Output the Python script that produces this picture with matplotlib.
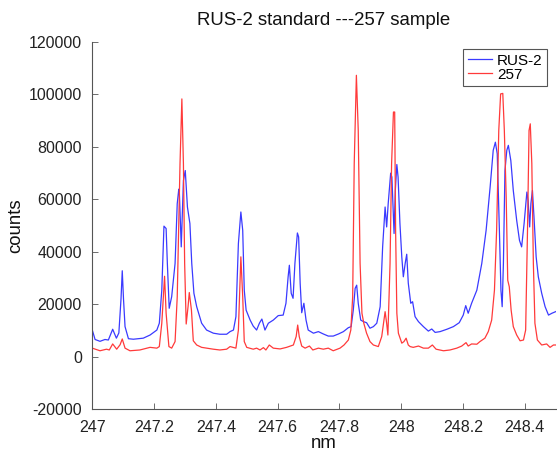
import numpy as np
import matplotlib.pyplot as plt

plt.rcParams['font.family'] = ['Liberation Sans', 'DejaVu Sans']
plt.rcParams['axes.unicode_minus'] = False

# RUS-2 standard spectrum
rus_nm = [
    247.000, 247.009, 247.025, 247.041, 247.052, 247.066, 247.078, 247.086,
    247.093, 247.097, 247.101, 247.106, 247.117, 247.133, 247.165, 247.187,
    247.209, 247.217, 247.225, 247.232, 247.239, 247.243, 247.249, 247.257,
    247.268, 247.275, 247.280, 247.282, 247.288, 247.295, 247.301, 247.308,
    247.316, 247.322, 247.329, 247.338, 247.354, 247.370, 247.392, 247.413,
    247.435, 247.446, 247.457, 247.465, 247.473, 247.481, 247.487, 247.492,
    247.498, 247.511, 247.521, 247.532, 247.541, 247.549, 247.559, 247.570,
    247.586, 247.602, 247.618, 247.627, 247.634, 247.638, 247.644, 247.650,
    247.656, 247.664, 247.668, 247.673, 247.678, 247.685, 247.692, 247.699,
    247.716, 247.732, 247.748, 247.764, 247.780, 247.797, 247.813, 247.829,
    247.838, 247.845, 247.851, 247.856, 247.861, 247.869, 247.878, 247.888,
    247.899, 247.910, 247.921, 247.932, 247.940, 247.948, 247.953, 247.958,
    247.966, 247.970, 247.977, 247.981, 247.986, 247.990, 247.996, 248.002,
    248.007, 248.013, 248.018, 248.023, 248.031, 248.037, 248.045, 248.056,
    248.072, 248.088, 248.099, 248.110, 248.126, 248.148, 248.169, 248.188,
    248.201, 248.209, 248.217, 248.228, 248.245, 248.261, 248.275, 248.288,
    248.298, 248.305, 248.311, 248.318, 248.323, 248.327, 248.331, 248.336,
    248.342, 248.347, 248.355, 248.363, 248.374, 248.383, 248.390, 248.398,
    248.407, 248.411, 248.416, 248.420, 248.425, 248.430, 248.437, 248.444,
    248.455, 248.466, 248.477, 248.488, 248.500,
]
rus_counts = [
    10100, 6500, 5800, 6500, 6300, 10400, 7000, 9000,
    22000, 32700, 22000, 11400, 6800, 6600, 7000, 8200,
    10100, 12700, 25300, 49700, 48800, 35500, 18400, 22800,
    35500, 58300, 63800, 62100, 41800, 67100, 70900, 57000,
    50700, 35500, 24100, 19000, 12700, 10100, 8900, 8500,
    8500, 9500, 10100, 15200, 43100, 55100, 48100, 25300,
    17700, 13900, 11600, 10100, 12700, 14300, 10100, 12700,
    13900, 15600, 15800, 20300, 30400, 34800, 24100, 22200,
    35500, 47100, 45600, 27900, 16700, 20300, 13900, 10100,
    8900, 9500, 8600, 7800, 7800, 8600, 9500, 11000,
    11400, 17700, 26000, 27200, 20300, 13900, 13300, 12900,
    10800, 11400, 12700, 19000, 41800, 57000, 49400, 58300,
    69900, 68400, 46900, 63300, 73200, 68400, 50700, 38000,
    30400, 35500, 39000, 28000, 20300, 20900, 15200, 13300,
    11400, 9700, 10500, 9200, 9500, 10400, 11400, 12900,
    15800, 19400, 16500, 20300, 25300, 35500, 48100, 64600,
    78600, 81700, 77300, 48100, 25300, 19000, 35500, 70900,
    78600, 80500, 74700, 63300, 51900, 44300, 41800, 50700,
    62700, 59500, 49400, 58300, 63300, 53200, 38000, 30400,
    24100, 19000, 15800, 16500, 17100,
]

# 257 sample spectrum
s257_nm = [
    247.000, 247.025, 247.046, 247.055, 247.066, 247.079, 247.090, 247.097,
    247.106, 247.122, 247.154, 247.187, 247.209, 247.217, 247.225, 247.234,
    247.239, 247.248, 247.257, 247.268, 247.275, 247.284, 247.290, 247.295,
    247.299, 247.304, 247.310, 247.314, 247.321, 247.327, 247.338, 247.354,
    247.370, 247.392, 247.413, 247.435, 247.446, 247.465, 247.473, 247.481,
    247.487, 247.492, 247.500, 247.521, 247.532, 247.543, 247.554, 247.562,
    247.573, 247.586, 247.608, 247.629, 247.651, 247.660, 247.665, 247.670,
    247.678, 247.689, 247.703, 247.714, 247.732, 247.748, 247.764, 247.780,
    247.802, 247.815, 247.829, 247.837, 247.843, 247.848, 247.855, 247.861,
    247.867, 247.873, 247.879, 247.888, 247.899, 247.910, 247.926, 247.937,
    247.948, 247.953, 247.957, 247.964, 247.969, 247.975, 247.979, 247.982,
    247.986, 247.991, 248.002, 248.009, 248.016, 248.023, 248.029, 248.039,
    248.056, 248.072, 248.088, 248.101, 248.113, 248.137, 248.158, 248.180,
    248.196, 248.210, 248.217, 248.228, 248.245, 248.255, 248.271, 248.282,
    248.293, 248.302, 248.309, 248.316, 248.322, 248.329, 248.334, 248.340,
    248.345, 248.350, 248.356, 248.363, 248.374, 248.385, 248.396, 248.403,
    248.409, 248.414, 248.418, 248.423, 248.428, 248.433, 248.441, 248.455,
    248.471, 248.482, 248.493, 248.500,
]
s257_counts = [
    3200, 2200, 2800, 2500, 4800, 2800, 4500, 6700,
    3200, 2200, 2500, 3500, 3200, 3800, 12700, 30600,
    16500, 3800, 3200, 5700, 22800, 73500, 98200, 73500,
    35500, 12400, 19000, 24400, 17700, 6000, 4400, 3500,
    3200, 2800, 2500, 2800, 3800, 3200, 10100, 38000,
    22800, 5700, 3500, 2800, 3200, 2500, 3400, 2500,
    4400, 3200, 2900, 3500, 4400, 7600, 12000, 7600,
    4000, 3200, 4000, 2500, 3200, 2800, 3200, 2200,
    3200, 4400, 6300, 10100, 22800, 73500, 107200, 86200,
    35500, 16500, 12700, 8900, 5700, 4400, 3800, 7600,
    17100, 12700, 8200, 35500, 73500, 93200, 93200, 48100,
    16500, 8900, 5100, 5700, 7000, 4400, 3800, 3500,
    4000, 3200, 3200, 4400, 2800, 2200, 2500, 3200,
    4000, 5300, 4000, 4800, 4700, 5700, 7000, 9500,
    13900, 25300, 48100, 86200, 100100, 100300, 86200, 60800,
    29100, 26600, 17700, 11400, 8200, 6000, 6300, 10100,
    48100, 86200, 88700, 73500, 35500, 12700, 6300, 4400,
    4800, 3500, 4400, 4400,
]

y_ticks = np.arange(-20000, 120001, 20000)
x_ticks = [247, 247.2, 247.4, 247.6, 247.8, 248, 248.2, 248.4]
x_tick_labels = ['247', '247.2', '247.4', '247.6', '247.8', '248', '248.2', '248.4']

fig = plt.figure(figsize=(5.57, 4.54), dpi=100)
ax = fig.add_axes([0.1657, 0.0991, 0.8318, 0.8090])

ax.plot(rus_nm, rus_counts, color='#3a3aff', lw=0.9, label='RUS-2')
ax.plot(s257_nm, s257_counts, color='#ff3a3a', lw=0.9, label='257')

ax.set_xlim(247, 248.5)
ax.set_ylim(-20000, 120000)
ax.set_xticks(x_ticks)
ax.set_xticklabels(x_tick_labels)
ax.set_yticks(y_ticks)

for side in ['top', 'right']:
    ax.spines[side].set_visible(False)
for side in ['left', 'bottom']:
    ax.spines[side].set_color('#555555')
    ax.spines[side].set_linewidth(0.8)

ax.tick_params(axis='both', direction='in', length=4, width=0.6,
               color='#555555', labelsize=11.5, labelcolor='#222222')
ax.tick_params(axis='x', pad=8)
ax.tick_params(axis='y', pad=7.5)

ax.set_title('RUS-2 standard ---257 sample', fontsize=13.4, pad=12, color='#111111')
ax.set_xlabel('nm', fontsize=13.4, labelpad=0, color='#111111')
ax.set_ylabel('counts', fontsize=13.4, labelpad=3, color='#111111')

leg = ax.legend(loc='upper right', bbox_to_anchor=(0.9814, 0.980),
                borderaxespad=0, fontsize=11, handlelength=1.6,
                handletextpad=0.3, labelspacing=0.0, borderpad=0.3,
                fancybox=False, framealpha=1)
leg.get_frame().set_edgecolor('#555555')
leg.get_frame().set_linewidth(0.8)

fig.savefig('out.png', dpi=100)
